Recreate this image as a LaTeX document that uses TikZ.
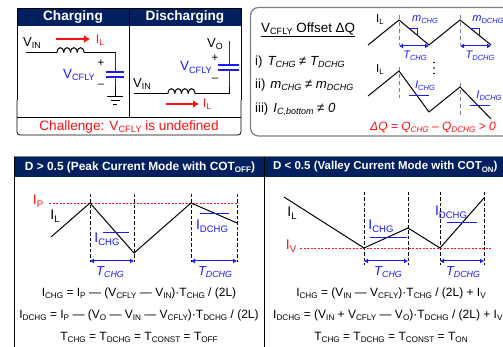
\documentclass[tikz,border=0pt]{standalone}
\usepackage{fontspec}
\usepackage{graphicx}
\setmainfont{Liberation Sans}
\usetikzlibrary{arrows.meta}
\definecolor{navy}{HTML}{002060}
\definecolor{bl}{HTML}{1A1AFF}
\definecolor{rd}{HTML}{FF1010}
\definecolor{gy}{HTML}{808080}
\newcommand{\dn}[1]{\raisebox{-0.18em}{\scalebox{0.68}{#1}}}
\newcommand{\fs}[1]{\fontsize{#1}{#1}\selectfont}
\newcommand{\coil}[2]{\foreach \i in {0,1,2,3} {\draw[wire,shift={(#1+\i*6.75,#2)}] (0,0) .. controls (0.5,-6.5) and (6.25,-6.5) .. (6.75,0);}}
\tikzset{
  x=1pt,y=-1pt,
  lab/.style={inner sep=0pt,font=\fs{11.5}},
  eq/.style={inner sep=0pt,font=\fs{12}},
  hd/.style={inner sep=0pt,text=white,font=\fs{13.6}\bfseries},
  hds/.style={inner sep=0pt,text=white,font=\fs{11.9}\bfseries},
  blab/.style={lab,text=bl},
  blit/.style={lab,text=bl,font=\fs{11}\itshape},
  rlab/.style={lab,text=rd},
  wire/.style={draw=black,line width=1pt},
  bwire/.style={draw=bl,line width=1pt},
  wave/.style={draw=black,line width=1pt},
  dsh/.style={draw=black,line width=0.7pt,dash pattern=on 3.5pt off 2pt},
  gdsh/.style={draw=gy,line width=1pt,dash pattern=on 4pt off 3pt},
  spanarrow/.style={draw=bl,line width=1pt,{Latex[length=4pt,width=5pt]}-{Latex[length=4pt,width=5pt]}},
  rarrow/.style={draw=rd,line width=1.5pt,-{Latex[length=6pt,width=8pt]}},
  rdot/.style={draw=rd,line width=0.9pt,dash pattern=on 2pt off 1.5pt},
  ovl/.style={draw=bl,line width=0.8pt},
}
\begin{document}
\begin{tikzpicture}
\useasboundingbox (0,0) rectangle (503,347);
\clip (0,0) rectangle (503,347);
\fill[white] (0,0) rectangle (503,347);
% ---------- top-left box
\fill[navy] (17,8) rectangle (241,26);
\draw[black,line width=0.8pt,rounded corners=3pt] (17,100) -- (17,135) -- (241,135) -- (241,100);
\draw[black,line width=0.8pt] (17,100) -- (17,8) -- (241,8) -- (241,100);
\draw[black,line width=0.7pt] (129,8) -- (129,117);
\draw[black,line width=0.7pt] (17,117) -- (241,117);
\node[hd] (tch) at (73,17) {Charging};
\node[hd] (tdi) at (185,17) {Discharging};
\node[rlab,font=\fs{13.6}] (chal) at (129,127) {Challenge: V\dn{CFLY} is undefined};
% charging circuit
\coordinate (a1) at (26,52.5); \coordinate (a2) at (57,52.5); \coordinate (a3) at (84,52.5);
\coordinate (a4) at (115,52.5); \coordinate (a5) at (115,72); \coordinate (a6) at (115,77);
\coordinate (a7) at (115,86); \coordinate (a8) at (115,97);
\draw[wire] (a1) -- (a2);
\draw[wire] (a3) -- (a4);
\draw[bwire] (a4) -- (a5) (a6) -- (a7);
\draw[wire] (a7) -- (a8);
\coil{57}{52.5}
\draw[bwire,line width=1.3pt] (106,72) -- (124,72) (106,77) -- (124,77);
\draw[wire] (107,97) -- (123,97) (110.5,101) -- (119.5,101) (113,104.5) -- (117,104.5);
\node[lab,font=\fs{13}] (v1) at (32,43) {V\dn{IN}};
\draw[rarrow] (56,39) -- (90,39);
\node[rlab,font=\fs{12.5}] (il1) at (100,40.5) {I\dn{L}};
\node[lab] (p1) at (101,63) {+};
\node[blab,font=\fs{13.4}] (vc1) at (79,75) {V\dn{CFLY}};
\node[lab] (m1) at (101,86) {–};
% discharging circuit
\coordinate (b1) at (134,93.5); \coordinate (b2) at (168,93.5); \coordinate (b3) at (195,93.5);
\coordinate (b4) at (229,93.5); \coordinate (b5) at (229,87); \coordinate (b6) at (229,70);
\coordinate (b7) at (229,65); \coordinate (b8) at (229,41);
\draw[wire] (b1) -- (b2);
\draw[wire] (b3) -- (b4) -- (b5);
\draw[bwire] (b5) -- (b6) (b7) -- (b8);
\coil{168}{93.5}
\draw[bwire,line width=1.3pt] (218,65) -- (239,65) (218,70) -- (239,70);
\node[lab,font=\fs{13}] (v2) at (142,84) {V\dn{IN}};
\draw[rarrow] (166,104) -- (199,104);
\node[rlab,font=\fs{12.5}] (il2) at (207,104) {I\dn{L}};
\node[lab,font=\fs{13}] (vo) at (215,44) {V\dn{O}};
\node[lab] (p2) at (215,58) {+};
\node[blab,font=\fs{13.4}] (vc2) at (196,67.5) {V\dn{CFLY}};
\node[lab] (m2) at (215,80) {–};
% ---------- top-right box
\draw[gy,line width=1.2pt,rounded corners=8pt] (520,7.5) -- (250.5,7.5) -- (250.5,136) -- (520,136);
\node[inner sep=0pt,font=\fs{13.4},anchor=west] (off) at (261,30) {\underline{V\dn{CFLY} Offset ΔQ}};
\node[lab,anchor=west,font=\fs{13.2}] (r1) at (255,62) {i)\hspace{5pt}\textit{T\dn{CHG} ≠ T\dn{DCHG}}};
\node[lab,anchor=west,font=\fs{13.2}] (r2) at (255,85) {ii)\hspace{5pt}\textit{m\dn{CHG} ≠ m\dn{DCHG}}};
\node[lab,anchor=west,font=\fs{13.2}] (r3) at (255,109) {iii)\hspace{5pt}\textit{I\dn{C,bottom} ≠ 0}};
% upper waveform
\coordinate (c1) at (368,45); \coordinate (c2) at (399,20); \coordinate (c3) at (429,45);
\coordinate (c4) at (460,20); \coordinate (c5) at (491,45);
\draw[wave] (c1) -- (c2) -- (c3) -- (c4) -- (c5);
\draw[gdsh] (399,15) -- (399,45) (460,15) -- (460,45);
\draw[spanarrow] (399,46) -- (429,46);
\draw[spanarrow] (460,46) -- (491,46);
\draw[bl,line width=0.7pt] (409,28) -- (417,28) -- (417,36);
\draw[bl,line width=0.7pt] (470,28) -- (479,28) -- (479,36);
\node[lab] (il3) at (380,20) {I\dn{L}};
\node[blit] (mc) at (425,20) {m\dn{CHG}};
\node[blit] (md) at (488,20) {m\dn{DCHG}};
\node[blit] (tc) at (415,56) {T\dn{CHG}};
\node[blit] (td) at (480,56) {T\dn{DCHG}};
\fill[black] (434,62.5) circle (0.9) (434,68) circle (0.9) (434,73.5) circle (0.9);
% lower waveform
\coordinate (d1) at (368,96); \coordinate (d2) at (399,71); \coordinate (d3) at (429,112);
\coordinate (d4) at (460,87); \coordinate (d5) at (491,119);
\draw[wave] (d1) -- (d2) -- (d3) -- (d4) -- (d5);
\draw[gdsh] (399,67) -- (399,98) (460,83) -- (460,115);
\draw[ovl] (409,95) -- (429,95) (470,105) -- (490,105);
\node[lab] (il4) at (380,70) {I\dn{L}};
\node[blit] (ic) at (425,86) {I\dn{CHG}};
\node[blit] (id) at (489,96) {I\dn{DCHG}};
\node[rlab,font=\fs{12}\itshape] (dq) at (433,127) {ΔQ = Q\dn{CHG} – Q\dn{DCHG} > 0};
% ---------- lower panels
\fill[navy] (14,157) rectangle (520,177);
\draw[gy,line width=0.8pt] (14,156.5) -- (520,156.5);
\draw[black,line width=0.8pt] (14,157) -- (14,350);
\draw[black,line width=0.9pt] (264.5,157) -- (264.5,350);
\node[hds] (hl) at (140,167) {D > 0.5 (Peak Current Mode with COT\dn{OFF})};
\node[hds,anchor=west,font=\fs{11.5}\bfseries] (hr) at (273,167) {D < 0.5 (Valley Current Mode with COT\dn{ON})};
% left waveform
\coordinate (e1) at (51,237); \coordinate (e2) at (90,203); \coordinate (e3) at (134,253);
\coordinate (e4) at (191,203); \coordinate (e5) at (237,223);
\draw[dsh] (90,194) -- (90,262) (134,194) -- (134,262) (191,194) -- (191,262) (237,194) -- (237,262);
\draw[rdot] (49,203) -- (237,203);
\draw[wave] (e1) -- (e2) -- (e3) -- (e4) -- (e5);
\draw[spanarrow] (90,261) -- (134,261);
\draw[spanarrow] (191,261) -- (237,261);
\draw[ovl] (103,232) -- (129,232) (200,213) -- (229,213);
\node[rlab,font=\fs{14}] (ip) at (38,201) {I\dn{P}};
\node[lab,font=\fs{14}] (il5) at (55,216) {I\dn{L}};
\node[blab,font=\fs{14}] (ic2) at (107,239) {I\dn{CHG}};
\node[blab,font=\fs{14}] (id2) at (212,226) {I\dn{DCHG}};
\node[blit,font=\fs{13}\itshape] (tc2) at (110,272) {T\dn{CHG}};
\node[blit,font=\fs{13}\itshape] (td2) at (215,272) {T\dn{DCHG}};
\node[eq] (q1) at (139,293) {I\dn{CHG} = I\dn{P} — (V\dn{CFLY} — V\dn{IN})·T\dn{CHG} / (2L)};
\node[eq] (q2) at (139,315) {I\dn{DCHG} = I\dn{P} — (V\dn{O} — V\dn{IN} — V\dn{CFLY})·T\dn{DCHG} / (2L)};
\node[eq] (q3) at (139,337) {T\dn{CHG} = T\dn{DCHG} = T\dn{CONST} = T\dn{OFF}};
% right waveform
\coordinate (f1) at (284,197); \coordinate (f2) at (364,248); \coordinate (f3) at (408,228);
\coordinate (f4) at (440,248); \coordinate (f5) at (484,198);
\draw[dsh] (364,192) -- (364,265) (408,192) -- (408,265) (440,192) -- (440,265) (484,192) -- (484,265);
\draw[rdot] (300,248) -- (491,248);
\draw[wave] (f1) -- (f2) -- (f3) -- (f4) -- (f5);
\draw[spanarrow] (364,261) -- (408,261);
\draw[spanarrow] (440,261) -- (484,261);
\draw[ovl] (370,237) -- (407,237) (447,222) -- (477,222);
\node[rlab,font=\fs{14}] (iv) at (291,246) {I\dn{V}};
\node[lab,font=\fs{14}] (il6) at (292,213) {I\dn{L}};
\node[blab,font=\fs{14}] (ic3) at (381,226) {I\dn{CHG}};
\node[blab,font=\fs{14}] (id3) at (451,212) {I\dn{DCHG}};
\node[blit,font=\fs{13}\itshape] (tc3) at (388,272) {T\dn{CHG}};
\node[blit,font=\fs{13}\itshape] (td3) at (463,272) {T\dn{DCHG}};
\node[eq] (q4) at (391,293) {I\dn{CHG} = (V\dn{IN} — V\dn{CFLY})·T\dn{CHG} / (2L) + I\dn{V}};
\node[eq,anchor=west] (q5) at (273,315) {I\dn{DCHG} = (V\dn{IN} + V\dn{CFLY} — V\dn{O})·T\dn{DCHG} / (2L) + I\dn{V}};
\node[eq] (q6) at (391,337) {T\dn{CHG} = T\dn{DCHG} = T\dn{CONST} = T\dn{ON}};
\end{tikzpicture}
\end{document}
